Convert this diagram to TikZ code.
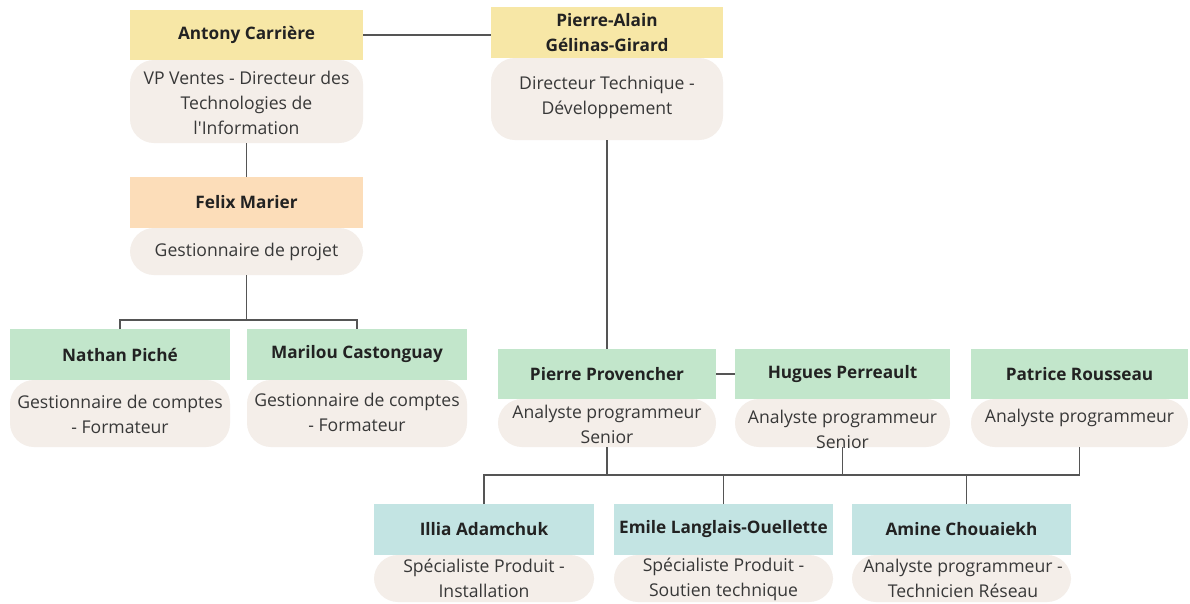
\documentclass[tikz,border=0pt]{standalone}
\usepackage{fontspec}
\setmainfont{Open Sans}[Ligatures=TeXOff]
\definecolor{cyel}{HTML}{F7E7A6}
\definecolor{corg}{HTML}{FCDDB9}
\definecolor{cgrn}{HTML}{C2E6CB}
\definecolor{ctea}{HTML}{C3E4E3}
\definecolor{cbody}{HTML}{F4EEE9}
\definecolor{ctxt}{HTML}{222222}
\definecolor{cline}{HTML}{555555}
\begin{document}
\begin{tikzpicture}[x=1pt,y=-1pt,
  hd/.style={draw=none, inner sep=0, outer sep=0, anchor=north west, minimum height=50, font=\fontsize{17.2}{25}\selectfont\bfseries, text=ctxt, align=center},
  bd/.style={fill=cbody, draw=none, inner sep=0, outer sep=0, anchor=north west, rounded corners=24},
  bt/.style={inner sep=0, font=\fontsize{17.6}{25}\selectfont, text=ctxt!90, align=center},
  conn/.style={draw=cline, line width=1.1pt}]
\useasboundingbox (0,0) rectangle (1190,603);
\fill[white] (0,0) rectangle (1190,603);
% Antony
\node[bd, minimum width=233, minimum height=83] (ab) at (130,60) {};
\node[hd, fill=cyel, minimum width=233] (a) at (130,10) {Antony Carrière};
\node[bt] (at) at (246.5,103) {VP Ventes - Directeur des\\Technologies de\\l'Information};
% Pierre-Alain
\node[bd, minimum width=232, minimum height=82] (pab) at (491,58) {};
\node[hd, fill=cyel, minimum width=232, minimum height=51] (pa) at (491,7) {Pierre-Alain\\Gélinas-Girard};
\node[bt] (pat) at (607,97) {Directeur Technique -\\Développement};
% Felix
\node[bd, minimum width=233, minimum height=47] (fb) at (130,228) {};
\node[hd, fill=corg, minimum width=233, minimum height=51] (f) at (130,177) {Felix Marier};
\node[bt] (ft) at (246.5,252) {Gestionnaire de projet};
% Nathan
\node[bd, minimum width=220, minimum height=67] (nb) at (10,380) {};
\node[hd, fill=cgrn, minimum width=220, minimum height=51] (n) at (10,329) {Nathan Piché};
\node[bt] (nt) at (120,414) {Gestionnaire de comptes\\- Formateur};
% Marilou
\node[bd, minimum width=220, minimum height=67] (mb) at (247,380) {};
\node[hd, fill=cgrn, minimum width=220, minimum height=51] (m) at (247,329) {Marilou Castonguay};
\node[bt] (mt) at (357,412) {Gestionnaire de comptes\\- Formateur};
% Pierre Provencher
\node[bd, minimum width=218, minimum height=48] (ppb) at (498,399) {};
\node[hd, fill=cgrn, minimum width=218] (pp) at (498,349) {Pierre Provencher};
\node[bt] (ppt) at (607,424) {Analyste programmeur\\Senior};
% Hugues
\node[bd, minimum width=215, minimum height=48] (hub) at (735,399) {};
\node[hd, fill=cgrn, minimum width=215] (hu) at (735,349) {Hugues Perreault};
\node[bt] (hut) at (842.5,429) {Analyste programmeur\\Senior};
% Patrice
\node[bd, minimum width=217, minimum height=48] (ptb) at (971,399) {};
\node[hd, fill=cgrn, minimum width=217] (pt) at (971,349) {Patrice Rousseau};
\node[bt] (ptt) at (1079.5,418) {Analyste programmeur};
% Illia
\node[bd, minimum width=220, minimum height=47] (ilb) at (374,555) {};
\node[hd, fill=ctea, minimum width=220, minimum height=51] (il) at (374,504) {Illia Adamchuk};
\node[bt] (ilt) at (484,578) {Spécialiste Produit -\\Installation};
% Emile
\node[bd, minimum width=219, minimum height=47] (emb) at (614,555) {};
\node[hd, fill=ctea, minimum width=219, minimum height=51] (em) at (614,504) {Emile Langlais-Ouellette};
\node[bt] (emt) at (723.5,579) {Spécialiste Produit -\\Soutien technique};
% Amine
\node[bd, minimum width=219, minimum height=47] (amb) at (852,555) {};
\node[hd, fill=ctea, minimum width=219, minimum height=51] (am) at (852,504) {Amine Chouaiekh};
\node[bt] (amt) at (963,578) {Analyste programmeur -\\Technicien Réseau};
% connectors
\coordinate (busA) at (0,320);
\coordinate (busB) at (0,475);
\draw[conn] (a.east) -- (a.east -| pa.west);
\draw[conn] (ab.south) -- (f.north);
\draw[conn] (fb.south) -- (fb.south |- busA);
\draw[conn] (n.north) -- (n.north |- busA) -- (busA -| m.north) -- (m.north);
\draw[conn] (pab.south) -- (pp.north);
\draw[conn] (pp.east) -- (hu.west);
\draw[conn] (ppb.south) -- (ppb.south |- busB);
\draw[conn] (hub.south) -- (hub.south |- busB);
\draw[conn] (il.north) -- (il.north |- busB) -- (busB -| ptb.south) -- (ptb.south);
\draw[conn] (em.north) -- (em.north |- busB);
\draw[conn] ([xshift=5]am.north) -- ([xshift=5]am.north |- busB);
\end{tikzpicture}
\end{document}
